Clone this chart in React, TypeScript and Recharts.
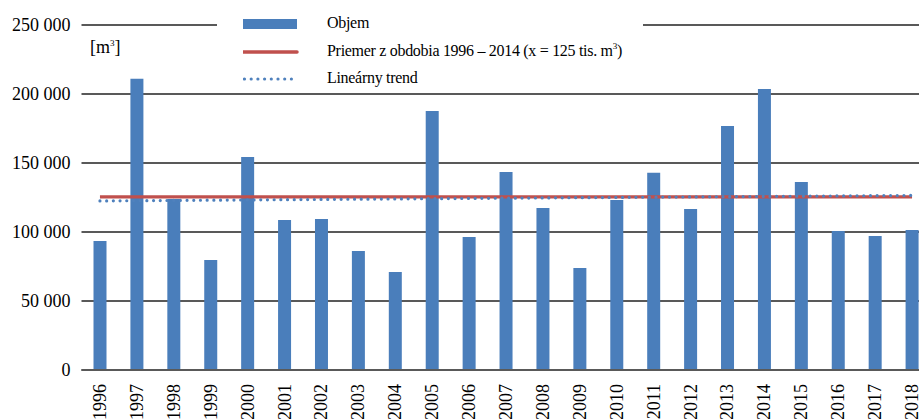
import { ComposedChart, Bar, Line, XAxis, YAxis, CartesianGrid } from "recharts";

const years = [
  "1996", "1997", "1998", "1999", "2000", "2001", "2002", "2003", "2004", "2005", "2006", "2007",
  "2008", "2009", "2010", "2011", "2012", "2013", "2014", "2015", "2016", "2017", "2018",
];

const volume = [
  93500, 211000, 124000, 79700, 154300, 108700, 109400, 86200, 71000, 187700, 96400, 143500,
  117400, 73900, 123200, 143000, 116700, 176800, 203600, 136200, 100700, 97100, 101400,
];

// first and last point only, drawn straight across
const averageEnds = [125400, 125400];
const trendEnds = [122500, 126500];

const yTicks = [0, 50000, 100000, 150000, 200000, 250000];

const data = years.map((year, i) => ({
  year,
  volume: volume[i],
  average: i === 0 ? averageEnds[0] : i === years.length - 1 ? averageEnds[1] : null,
  trend: i === 0 ? trendEnds[0] : i === years.length - 1 ? trendEnds[1] : null,
}));

const serif = "Liberation Serif";
const blue = "#4a7ebb";
const red = "#c0504d";
const grid = "#595959";

const fmt = (v: number) => String(v).replace(/\B(?=(\d{3})+(?!\d))/g, " ");

const YearTick = ({ x, y, payload }: any) => (
  <text
    x={x}
    y={y + 6}
    transform={`rotate(-90 ${x} ${y + 6})`}
    textAnchor="end"
    dominantBaseline="central"
    fontFamily={serif}
    fontSize={18}
    fill="#000"
  >
    {payload.value}
  </text>
);

const Sup = ({ children }: { children: string }) => (
  <span style={{ fontSize: 9, position: "relative", top: -7 }}>{children}</span>
);

export default function App() {
  return (
    <div
      style={{
        position: "fixed",
        left: 0,
        top: 0,
        width: 919,
        height: 419,
        overflow: "hidden",
        background: "#fff",
        fontFamily: serif,
      }}
    >
      <ComposedChart
        width={940}
        height={419}
        data={data}
        margin={{ top: 25, right: 9.5, left: 0, bottom: 0 }}
        barCategoryGap={0}
        style={{ fontFamily: serif }}
      >
        <CartesianGrid vertical={false} stroke={grid} strokeWidth={2} />
        <XAxis
          dataKey="year"
          height={49}
          tick={<YearTick />}
          tickLine={false}
          axisLine={{ stroke: grid, strokeWidth: 2 }}
          interval={0}
        />
        <YAxis
          width={81.5}
          domain={[0, 250000]}
          ticks={yTicks}
          tickFormatter={fmt}
          axisLine={false}
          tickLine={false}
          tickMargin={5}
          tick={{ fontFamily: serif, fontSize: 18, fill: "#000" }}
        />
        <Bar dataKey="volume" fill={blue} barSize={13} isAnimationActive={false} />
        <Line
          dataKey="average"
          stroke={red}
          strokeWidth={3.2}
          dot={false}
          connectNulls
          isAnimationActive={false}
        />
        <Line
          dataKey="trend"
          stroke="#4f81bd"
          strokeWidth={3.2}
          strokeDasharray="0 6.7"
          strokeLinecap="round"
          dot={false}
          connectNulls
          isAnimationActive={false}
        />
      </ComposedChart>

      <div style={{ position: "absolute", left: 90, top: 37, fontSize: 18 }}>
        [m<Sup>3</Sup>]
      </div>

      <div
        style={{
          position: "absolute",
          left: 217,
          top: 6,
          width: 426,
          height: 84,
          background: "#fff",
          fontSize: 16,
          letterSpacing: -0.3,
        }}
      >
        <svg width={60} height={84} style={{ position: "absolute", left: 26, top: 0 }}>
          <rect x={0} y={13} width={54} height={10} fill={blue} />
          <line x1={0} x2={54} y1={46} y2={46} stroke={red} strokeWidth={3.5} strokeLinecap="round" />
          <line
            x1={1.5}
            x2={55}
            y1={73}
            y2={73}
            stroke="#4f81bd"
            strokeWidth={3.2}
            strokeDasharray="0 6.7"
            strokeLinecap="round"
          />
        </svg>
        <div style={{ position: "absolute", left: 110, top: 8, whiteSpace: "nowrap" }}>Objem</div>
        <div style={{ position: "absolute", left: 110, top: 36, whiteSpace: "nowrap" }}>
          Priemer z obdobia 1996 – 2014 (x = 125 tis. m<Sup>3</Sup>)
        </div>
        <div style={{ position: "absolute", left: 110, top: 63, whiteSpace: "nowrap" }}>
          Lineárny trend
        </div>
      </div>
    </div>
  );
}
